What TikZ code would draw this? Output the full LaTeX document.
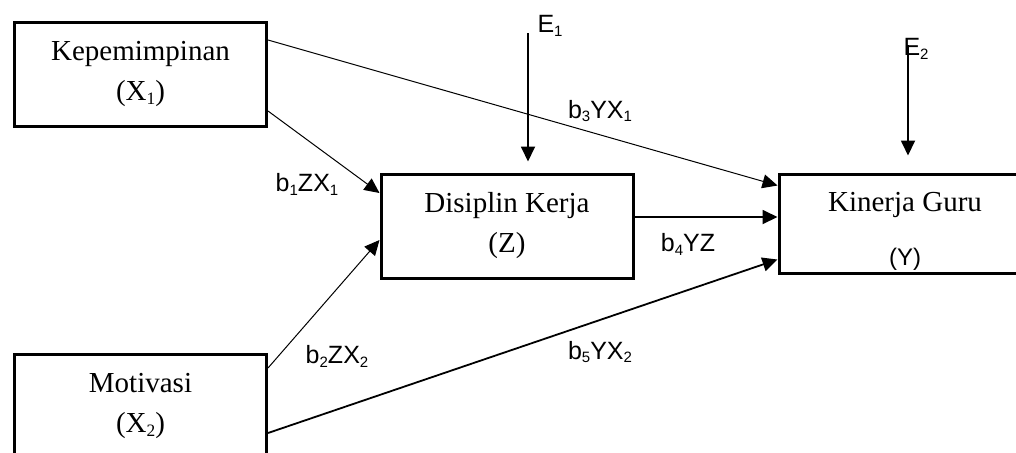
\documentclass[tikz,border=0pt]{standalone}
\usepackage{fontspec}
\setmainfont{Liberation Serif}
\setsansfont{Liberation Sans}
\usepackage{graphicx}
\usetikzlibrary{arrows.meta,positioning}
\newcommand{\lo}[1]{\raisebox{-0.3ex}{\scalebox{0.6}{#1}}}

\begin{document}
\begin{tikzpicture}  [x=0.5pt,y=-0.5pt]
\tikzset{box/.style ={draw,line width=1.5pt,minimum width=126pt,minimum height=52pt,inner sep=0pt,align=center,font=\fontsize{14.5}{20}\selectfont},
  arr/.style ={-{Triangle[length=7.5pt,width=7pt]},line width=0.9pt},
  thinarr/.style ={arr,line width=0.5pt},
  coef/.style ={font=\sffamily\fontsize{12.5}{14}\selectfont}}
% \draw[help lines] (0,0) grid (1016,452);
\useasboundingbox (0,0) rectangle (1016,452);
    \node[box] (kep) at (140.5,74) {Kepemimpinan\\(X\lo{1})};
    \node[box] (mot) at (140.5,406) {Motivasi\\(X\lo{2})};
    \node[box] (dis) at (507,226) {Disiplin Kerja\\(Z)};
    \node[box,minimum height=49.5pt] (kin) at (905,223.5) {\rule{0pt}{17pt}Kinerja Guru\\[7pt]{\sffamily\fontsize{12}{14}\selectfont(Y)}};
    \node[coef] (e1) at (550,26) {E\lo{1}};
    \node[coef] (e2) at (916,49) {E\lo{2}};
    \coordinate (e1top) at (528,33);
    \coordinate (e2top) at (908,45);
    \coordinate (dk) at ([yshift=4.5pt]dis.east);
    \draw[thinarr] ([yshift=17pt]kep.east) -- ([yshift=19pt]kin.west);
    \draw[thinarr] ([yshift=-18.5pt]kep.east) -- ([yshift=16.5pt]dis.west);
    \draw[thinarr] ([yshift=19pt]mot.east) -- ([yshift=-7pt]dis.west);
    \draw[arr] ([yshift=-13.5pt]mot.east) -- ([yshift=-18pt]kin.west);
    \draw[arr] (dk) -- (dk -| kin.west);
    \draw[arr,shorten >=5.5pt] (e1top) -- (e1top |- dis.north);
    \draw[arr,shorten >=8.5pt] (e2top) -- (e2top |- kin.north);
    \node[coef] (b1) at (307,184) {b\lo{1}ZX\lo{1}};
    \node[coef] (b2) at (337,356) {b\lo{2}ZX\lo{2}};
    \node[coef] (b3) at (600,111) {b\lo{3}YX\lo{1}};
    \node[coef] (b4) at (688,244) {b\lo{4}YZ};
    \node[coef] (b5) at (600,352) {b\lo{5}YX\lo{2}};
\end{tikzpicture}
\end{document}
